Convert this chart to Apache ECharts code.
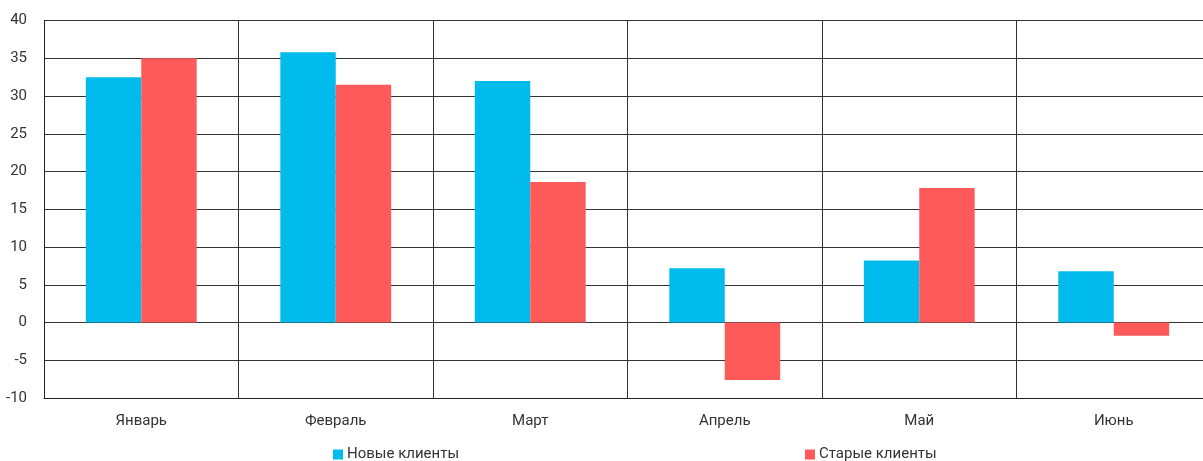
<!DOCTYPE html>
<html>
<head>
<meta charset="utf-8">
<script src="https://cdn.jsdelivr.net/npm/echarts@6/dist/echarts.min.js"></script>
<style>
  html, body { margin: 0; padding: 0; background: #fff; }
  #chart { width: 1203px; height: 461px; }
</style>
</head>
<body>
<div id="chart"></div>
<script>
// Monthly client dynamics
const months = ['Январь', 'Февраль', 'Март', 'Апрель', 'Май', 'Июнь'];
const newClients = [32.5, 35.8, 32.0, 7.2, 8.2, 6.8];
const oldClients = [35.0, 31.5, 18.6, -7.6, 17.8, -1.75];
const seriesNames = ['Новые клиенты', 'Старые клиенты'];

const FONT = 'Roboto, "Noto Sans", sans-serif';
const chart = echarts.init(document.getElementById('chart'), null, { renderer: 'canvas' });

const legendBase = {
  padding: 0, top: 447,
  icon: 'rect', itemWidth: 10, itemHeight: 10, itemGap: 4,
  textStyle: { fontFamily: FONT, fontSize: 15, color: '#333', padding: [0, 0, 0, -1] }
};

chart.setOption({
  animation: false,
  // the last column runs slightly past the right edge of the canvas
  grid: {
    left: 44, top: 20.5, width: 1167, height: 377.5,
    containLabel: false, outerBoundsMode: 'none'
  },
  legend: [
    Object.assign({ data: [seriesNames[0]], left: 333 }, legendBase),
    Object.assign({ data: [seriesNames[1]], left: 805 }, legendBase)
  ],
  xAxis: {
    type: 'category',
    data: months,
    axisLine: { onZero: false, lineStyle: { color: '#222', width: 1 } },
    axisTick: { show: false },
    axisLabel: { margin: 16, fontFamily: FONT, fontSize: 15, color: '#333' },
    splitLine: { show: true, lineStyle: { color: '#333', width: 1 } }
  },
  yAxis: {
    type: 'value',
    min: -10, max: 40, interval: 5,
    axisLine: { show: true, lineStyle: { color: '#222', width: 1 } },
    axisTick: { show: false },
    axisLabel: { margin: 17, fontFamily: FONT, fontSize: 15, color: '#333' },
    splitLine: { show: true, lineStyle: { color: '#333', width: 1 } }
  },
  series: [
    {
      name: seriesNames[0], type: 'bar', data: newClients,
      barGap: '0%', barCategoryGap: '43%',
      itemStyle: { color: '#00BBEB' }
    },
    {
      name: seriesNames[1], type: 'bar', data: oldClients,
      barGap: '0%', barCategoryGap: '43%',
      itemStyle: { color: '#FF5A5A' }
    }
  ]
});
</script>
</body>
</html>
